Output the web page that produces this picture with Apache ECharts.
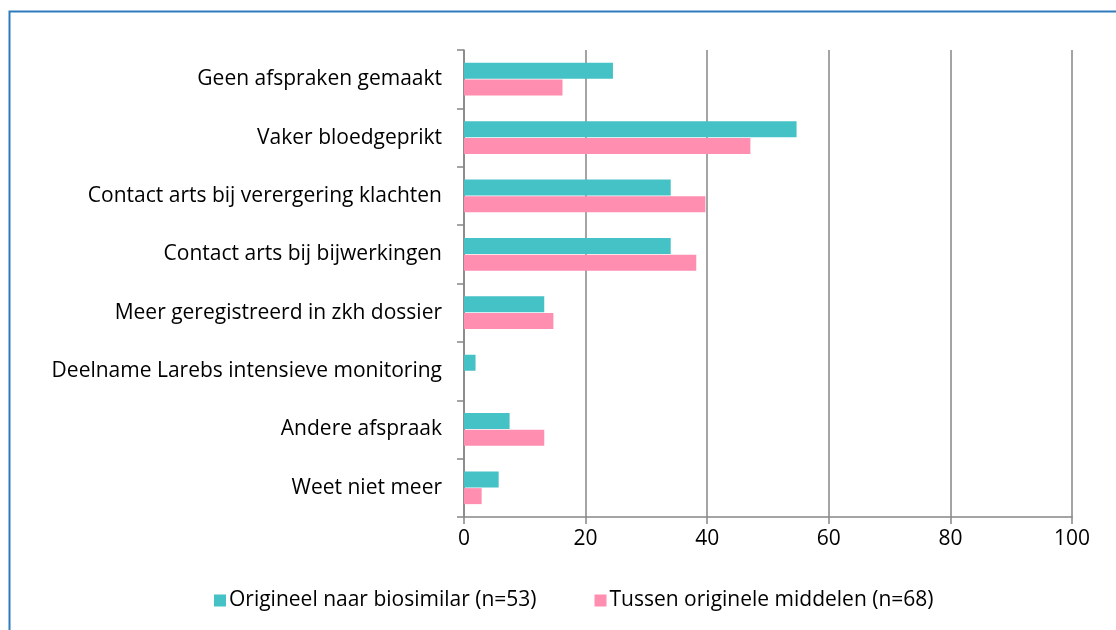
<!DOCTYPE html>
<html>
<head>
<meta charset="utf-8">
<script src="https://cdn.jsdelivr.net/npm/echarts@6/dist/echarts.min.js"></script>
<style>
  html, body { margin: 0; padding: 0; background: #ffffff; }
  #chart { width: 1116px; height: 630px; }
</style>
</head>
<body>
<div id="chart"></div>
<script>
var categories = [
  'Geen afspraken gemaakt',
  'Vaker bloedgeprikt',
  'Contact arts bij verergering klachten',
  'Contact arts bij bijwerkingen',
  'Meer geregistreerd in zkh dossier',
  'Deelname Larebs intensieve monitoring',
  'Andere afspraak',
  'Weet niet meer'
];
var seriesNames = ['Origineel naar biosimilar (n=53)', 'Tussen originele middelen (n=68)'];
var origineel = [24.5, 54.7, 34.0, 34.0, 13.2, 1.9, 7.5, 5.7];
var tussen = [16.2, 47.1, 39.7, 38.2, 14.7, 0, 13.2, 2.9];

var font = '"Open Sans", sans-serif';
var fsize = 21;
var myChart = echarts.init(document.getElementById('chart'));

var option = {
  animation: false,
  backgroundColor: '#ffffff',
  graphic: [{
    type: 'rect',
    shape: { x: 9.5, y: 11.5, width: 1130, height: 640 },
    style: { fill: 'none', stroke: '#2F7BBE', lineWidth: 2 },
    silent: true
  }],
  grid: { left: 464, right: 44, top: 50, bottom: 113, containLabel: false },
  legend: {
    top: 585,
    left: 209,
    itemWidth: 12,
    itemHeight: 12,
    itemGap: 58,
    icon: 'rect',
    textStyle: { fontFamily: font, fontSize: fsize, color: '#000', padding: [0, 0, 0, -2] },
    data: seriesNames
  },
  xAxis: {
    type: 'value',
    min: 0,
    max: 100,
    interval: 20,
    axisLine: { show: true, lineStyle: { color: '#868686', width: 1.5 } },
    axisTick: { show: true, length: 7, lineStyle: { color: '#868686', width: 1.5 } },
    splitLine: { show: true, lineStyle: { color: '#868686', width: 1.5 } },
    axisLabel: { fontFamily: font, fontSize: fsize, color: '#000', margin: 12 }
  },
  yAxis: {
    type: 'category',
    inverse: true,
    data: categories,
    axisLine: { show: true, lineStyle: { color: '#868686', width: 1.5 } },
    axisTick: { show: true, length: 7, lineStyle: { color: '#868686', width: 1.5 } },
    axisLabel: { fontFamily: font, fontSize: fsize, color: '#000', margin: 22 }
  },
  series: [
    {
      name: seriesNames[0],
      type: 'bar',
      barWidth: 16,
      barGap: '4%',
      itemStyle: { color: '#45C2C6' },
      data: origineel
    },
    {
      name: seriesNames[1],
      type: 'bar',
      barWidth: 16,
      barGap: '4%',
      itemStyle: { color: '#FF8EB0' },
      data: tussen
    }
  ]
};
myChart.setOption(option);
</script>
</body>
</html>
